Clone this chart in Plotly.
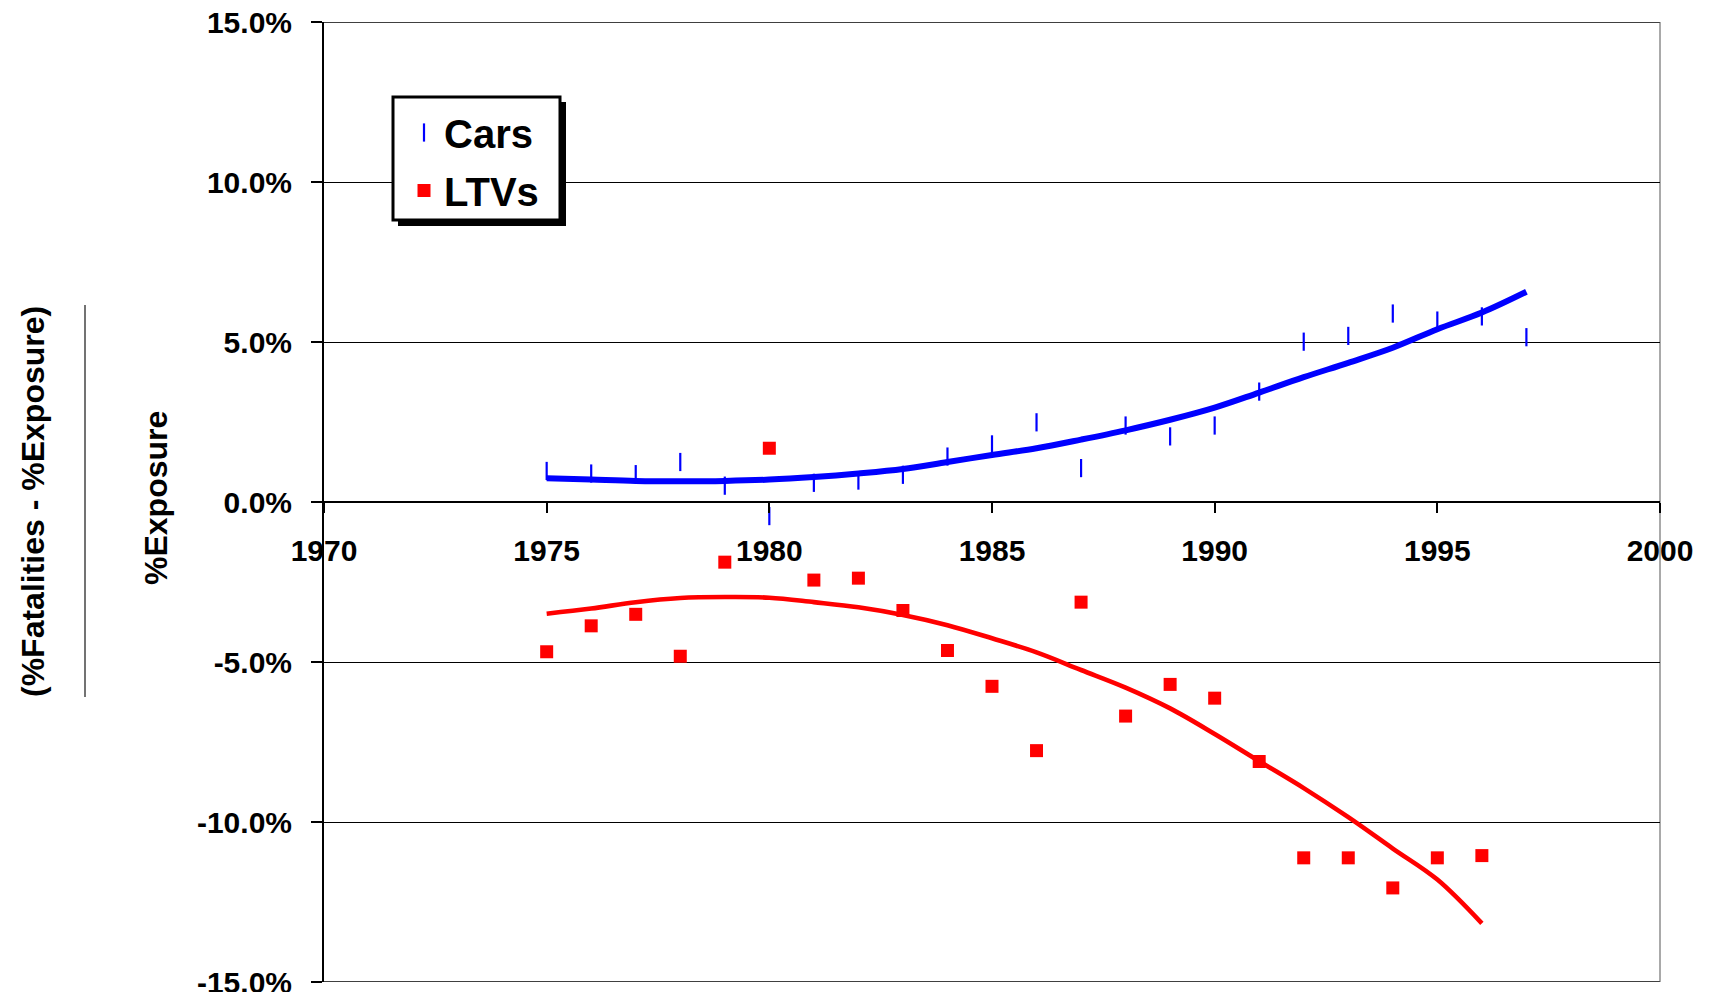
import plotly.graph_objects as go

# ---------------- data ----------------
car_years = list(range(1975, 1998))
cars_values = [0.97, 0.89, 0.87, 1.25, 0.51, -0.44, 0.60, 0.67, 0.85, 1.42, 1.80, 2.49,
               1.06, 2.39, 2.05, 2.39, 3.45, 5.01, 5.19, 5.89, 5.67, 5.80, 5.15]
cars_trend = [0.74, 0.70, 0.66, 0.65, 0.66, 0.70, 0.78, 0.89, 1.03, 1.25, 1.47, 1.68,
              1.95, 2.24, 2.57, 2.95, 3.42, 3.90, 4.35, 4.82, 5.40, 5.92, 6.57]

ltv_years = list(range(1975, 1997))
ltv_values = [-4.68, -3.87, -3.51, -4.82, -1.88, 1.68, -2.44, -2.38, -3.39, -4.64, -5.76,
              -7.77, -3.13, -6.69, -5.70, -6.13, -8.11, -11.12, -11.12, -12.06, -11.12, -11.05]
ltv_trend = [-3.49, -3.33, -3.13, -3.00, -2.97, -2.99, -3.13, -3.29, -3.53, -3.85, -4.26,
             -4.70, -5.25, -5.80, -6.45, -7.25, -8.10, -8.94, -9.85, -10.83, -11.80, -13.17]

y_tick_vals = [-15, -10, -5, 0, 5, 10, 15]
y_tick_text = ["-15.0%", "-10.0%", "-5.0%", "0.0%", "5.0%", "10.0%", "15.0%"]
x_tick_vals = [1970, 1975, 1980, 1985, 1990, 1995, 2000]

FONT = "Liberation Sans, Arial, sans-serif"
BLUE = "#0000FF"
RED = "#FF0000"

fig = go.Figure()

fig.add_trace(go.Scatter(x=car_years, y=cars_trend, mode="lines", line=dict(color=BLUE, width=6, shape="spline"),
                         showlegend=False, hoverinfo="skip"))
fig.add_trace(go.Scatter(x=ltv_years, y=ltv_trend, mode="lines", line=dict(color=RED, width=4.6, shape="spline"),
                         showlegend=False, hoverinfo="skip"))
fig.add_trace(go.Scatter(x=car_years, y=cars_values, mode="markers", name="Cars", legendgroup="a",
                         marker=dict(symbol="line-ns", size=13, color=BLUE, line=dict(color=BLUE, width=2.2))))
fig.add_trace(go.Scatter(x=ltv_years, y=ltv_values, mode="markers", name="LTVs", legendgroup="b",
                         marker=dict(symbol="square", size=13, color=RED, line=dict(width=0))))

# page body has an 8px margin; figure is sized to fit inside it
OFF = 8
W, H = 1710 - 2 * OFF, 1000 - 2 * OFF
L, R, T, B = 316, 42, 14, 10
pw, ph = W - L - R, H - T - B


def px(xp):
    """screen x (px) -> paper x"""
    return (xp - OFF - L) / pw


def py(yp):
    """screen y (px) -> paper y"""
    return (H - B - (yp - OFF)) / ph


shapes = [
    # gridlines at the range ends (plotly drops them at the edges)
    dict(type="line", xref="paper", yref="y", x0=0, x1=1, y0=y_tick_vals[-1], y1=y_tick_vals[-1],
         line=dict(color="black", width=1.3), layer="below"),
    dict(type="line", xref="paper", yref="y", x0=0, x1=1, y0=y_tick_vals[0], y1=y_tick_vals[0],
         line=dict(color="black", width=1.3), layer="below"),
    # right border of plot area
    dict(type="line", xref="paper", yref="paper", x0=1, x1=1, y0=0, y1=1,
         line=dict(color="#555555", width=1), layer="below"),
    # legend shadow
    dict(type="rect", xref="paper", yref="paper", x0=px(398), x1=px(566), y0=py(226), y1=py(102),
         fillcolor="black", line=dict(width=0), layer="above"),
    # legend box
    dict(type="rect", xref="paper", yref="paper", x0=px(393), x1=px(560), y0=py(220), y1=py(97),
         fillcolor="white", line=dict(color="black", width=3), layer="above"),
    # fraction bar of the y-axis title
    dict(type="line", xref="paper", yref="paper", x0=px(85), x1=px(85), y0=py(305), y1=py(697),
         line=dict(color="#444444", width=1.5)),
]

annotations = [
    dict(text="(%Fatalities - %Exposure)", xref="paper", yref="paper", x=px(33), y=py(502),
         showarrow=False, textangle=-90, xanchor="center", yanchor="middle",
         font=dict(family=FONT, size=32, color="black", weight="bold")),
    dict(text="%Exposure", xref="paper", yref="paper", x=px(156), y=py(498),
         showarrow=False, textangle=-90, xanchor="center", yanchor="middle",
         font=dict(family=FONT, size=32, color="black", weight="bold")),
]

fig.update_layout(
    width=W, height=H,
    margin=dict(l=L, r=R, t=T, b=B, pad=0, autoexpand=False),
    paper_bgcolor="white", plot_bgcolor="white",
    shapes=shapes, annotations=annotations,
    showlegend=True,
    legend=dict(x=px(404), y=py(100), xanchor="left", yanchor="top",
                bgcolor="rgba(0,0,0,0)", borderwidth=0, traceorder="grouped", tracegroupgap=3,
                font=dict(family=FONT, size=40, color="black", weight="bold")),
    xaxis=dict(range=[1970, 2000], tickvals=x_tick_vals, ticktext=[str(v) for v in x_tick_vals],
               showgrid=False, zeroline=False, showline=True, linecolor="black", linewidth=2,
               ticks="outside", ticklen=10, tickwidth=2, tickcolor="black",
               anchor="free", position=0.5, ticklabelstandoff=12, automargin=False,
               ticklabeloverflow="allow",
               tickfont=dict(family=FONT, size=30, color="black", weight="bold")),
    yaxis=dict(range=[-15, 15], tickvals=y_tick_vals, ticktext=y_tick_text,
               showgrid=True, gridcolor="black", gridwidth=1.3, zeroline=False,
               showline=True, linecolor="black", linewidth=2, automargin=False,
               ticklabeloverflow="allow",
               ticks="outside", ticklen=11, tickwidth=1.5, tickcolor="black", ticklabelstandoff=13,
               tickfont=dict(family=FONT, size=30, color="black", weight="bold")),
)

fig.write_html("out.html")
